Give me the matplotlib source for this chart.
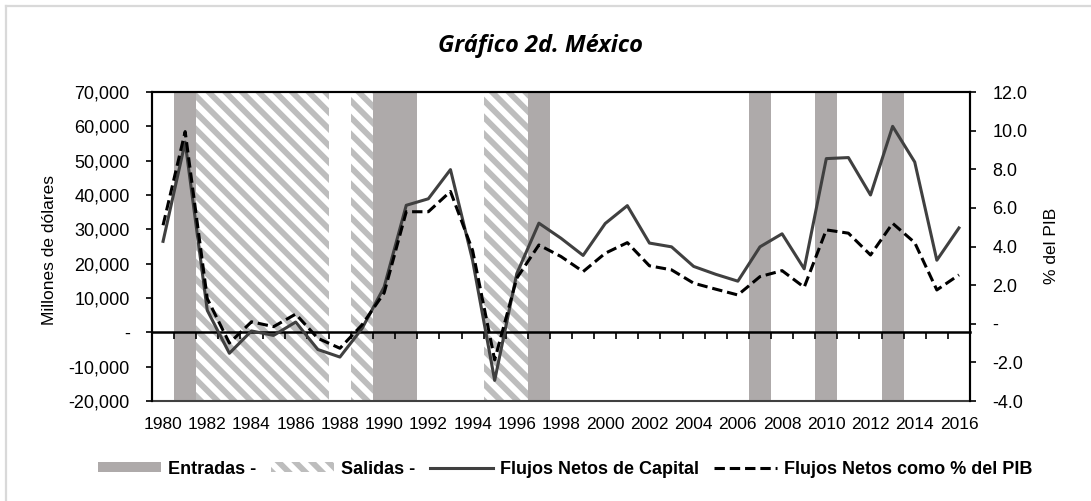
import matplotlib
matplotlib.use("Agg")
import matplotlib.pyplot as plt
from matplotlib.patches import Patch
from matplotlib.lines import Line2D
from matplotlib import font_manager

years = list(range(1980, 2017))
flujos_netos = [26.5, 55.4, 6.4, -6.1, 0.4, -0.9, 3.0, -5.0, -7.2, 1.1,
                13.2, 37.0, 38.9, 47.4, 21.0, -14.0, 17.1, 31.8, 27.4, 22.4,
                31.7, 36.9, 26.0, 24.9, 19.2, 16.9, 14.9, 24.9, 28.7, 18.5,
                50.6, 50.9, 40.0, 60.0, 49.6, 21.0, 30.4]
flujos_netos = [v * 1000 for v in flujos_netos]
flujos_pib = [5.1, 9.95, 1.3, -1.0, 0.1, -0.15, 0.5, -0.75, -1.27, -0.06,
              1.6, 5.8, 5.8, 6.85, 3.8, -1.87, 2.36, 4.08, 3.48, 2.7,
              3.65, 4.2, 3.0, 2.79, 2.1, 1.79, 1.49, 2.44, 2.75, 1.89,
              4.86, 4.69, 3.56, 5.2, 4.2, 1.75, 2.53]
entradas_years = [1981, 1990, 1991, 1997, 2007, 2010, 2013]
salidas_years = [1982, 1983, 1984, 1985, 1986, 1987, 1989, 1995, 1996]
year_labels = [str(y) for y in range(1980, 2017, 2)]
left_ticks = [-20000, -10000, 0, 10000, 20000, 30000, 40000, 50000, 60000, 70000]
left_ticklabels = ["-20,000", "-10,000", "-", "10,000", "20,000", "30,000",
                   "40,000", "50,000", "60,000", "70,000"]
right_ticks = [-4, -2, 0, 2, 4, 6, 8, 10, 12]
right_ticklabels = ["-4.0", "-2.0", "-", "2.0", "4.0", "6.0", "8.0", "10.0", "12.0"]

avail = {f.name for f in font_manager.fontManager.ttflist}
base = "Liberation Sans" if "Liberation Sans" in avail else "DejaVu Sans"
plt.rcParams['font.family'] = [base, 'DejaVu Sans']
plt.rcParams['hatch.linewidth'] = 4.2

W, H = 1091, 501
fig = plt.figure(figsize=(W / 100, H / 100), dpi=100)
ax = fig.add_axes([152 / W, 1 - 401 / H, (970 - 152) / W, (401 - 92) / H])
ax2 = ax.twinx()

idx = {y: i for i, y in enumerate(years)}
xs = list(range(len(years)))

ymin, ymax = -20000, 70000
GRAY = "#aeaaaa"
HATCH = "#bdbdbd"
ax.bar([idx[y] for y in entradas_years], [ymax - ymin] * len(entradas_years),
       bottom=ymin, width=1.0, color=GRAY, linewidth=0, zorder=1)
ax.bar([idx[y] for y in salidas_years], [ymax - ymin] * len(salidas_years),
       bottom=ymin, width=1.0, color="white", edgecolor=HATCH,
       hatch="\\\\", linewidth=0, zorder=1)

ax.plot(xs, flujos_netos, color="#404040", lw=2.2, zorder=3)
ax2.plot(xs, flujos_pib, color="black", lw=2.2, dashes=(3.4, 1.6), zorder=3)

ax.set_xlim(-0.5, len(years) - 0.5)
ax.set_ylim(ymin, ymax)
ax2.set_ylim(-4, 12)

ax.set_yticks(left_ticks)
ax.set_yticklabels(left_ticklabels, fontsize=13)
ax2.set_yticks(right_ticks)
ax2.set_yticklabels(right_ticklabels, fontsize=13)
ax.tick_params(axis='y', direction='out', length=4, width=1.2, pad=12)
ax2.tick_params(axis='y', direction='out', length=4, width=1.2, pad=12)

ax.spines['bottom'].set_position(('data', 0))
ax.set_xticks([i - 0.5 for i in range(len(years) + 1)])
ax.set_xticklabels([])
ax.tick_params(axis='x', direction='out', length=5, width=1.2)
for sp in ['left', 'right', 'top', 'bottom']:
    ax.spines[sp].set_linewidth(1.5)
    ax2.spines[sp].set_linewidth(1.5)
ax2.spines['bottom'].set_visible(False)
ax.spines['bottom'].set_linewidth(1.8)
ax.axhline(ymin, color="#404040", lw=1.5, clip_on=False, zorder=4)

for lab in year_labels:
    ax.text(idx[int(lab)], -0.075, lab, transform=ax.get_xaxis_transform(),
            ha='center', va='center', fontsize=12.5)

fig.text(50 / W, 1 - 250 / H, "Millones de dólares", rotation=90,
         ha='center', va='center', fontsize=12.5)
fig.text(1052 / W, 1 - 246 / H, "% del PIB", rotation=90,
         ha='center', va='center', fontsize=12.5)

fig.text(540 / W, 1 - 52 / H, "Gráfico 2d. México", ha='center', va='baseline',
         fontsize=17, fontweight='bold', style='italic',
         family=['Open Sans', base])

handles = [Patch(facecolor=GRAY, linewidth=0),
           Patch(facecolor="white", edgecolor=HATCH, hatch="\\\\", linewidth=0),
           Line2D([], [], color="#404040", lw=2.2),
           Line2D([], [], color="black", lw=2.2, dashes=(3.4, 1.6))]
labels = ["Entradas -", "Salidas -", "Flujos Netos de Capital", "Flujos Netos como % del PIB"]
fig.legend(handles, labels, loc='center', bbox_to_anchor=(565 / W, 1 - 469 / H),
           ncol=4, frameon=False, handlelength=3.5, handleheight=0.5,
           columnspacing=0.8, handletextpad=0.4, borderaxespad=0, borderpad=0,
           prop={'weight': 'bold', 'size': 13})

fig.add_artist(Line2D([6 / W, 6 / W], [0, 1 - 6 / H], color="#d9d9d9", lw=1.6,
                      transform=fig.transFigure))
fig.add_artist(Line2D([6 / W, 1], [1 - 6 / H, 1 - 6 / H], color="#d9d9d9", lw=1.6,
                      transform=fig.transFigure))

fig.savefig("out.png", dpi=100)
